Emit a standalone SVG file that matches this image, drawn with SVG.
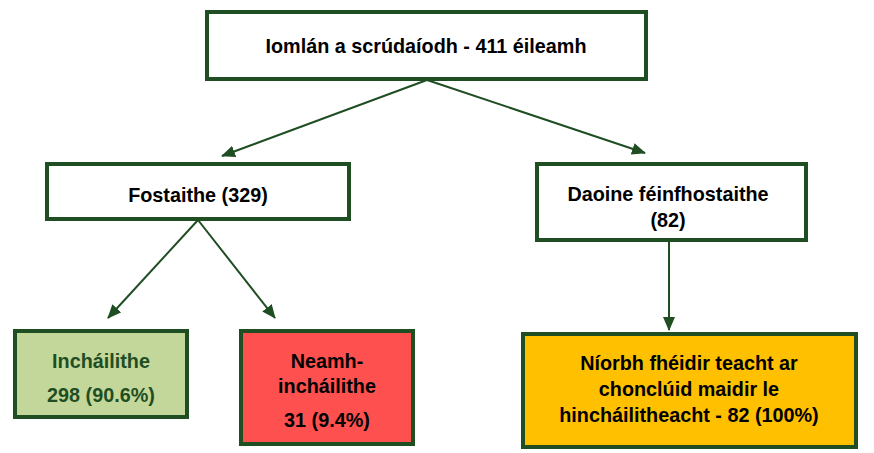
<svg xmlns="http://www.w3.org/2000/svg" width="874" height="453" viewBox="0 0 874 453">
<defs>
<marker id="ah" markerWidth="14" markerHeight="12" refX="13" refY="6" orient="auto" markerUnits="userSpaceOnUse">
<path d="M0,0 L14,6 L0,12 Z" fill="#1f4e23"/>
</marker>
<style>
.box{stroke:#1f4e23;stroke-width:4}
.t{font-family:"Liberation Sans",Arial,sans-serif;font-weight:bold;font-size:19.8px;text-anchor:middle;fill:#000}
.g{fill:#1f4e23}
.c{stroke:#1f4e23;stroke-width:2;fill:none;marker-end:url(#ah)}
</style>
</defs>
<rect width="874" height="453" fill="#fff"/>
<g id="connectors">
<line class="c" x1="427" y1="80" x2="222" y2="156"/>
<line class="c" x1="427" y1="80" x2="645" y2="153"/>
<line class="c" x1="198" y1="220" x2="108" y2="318"/>
<line class="c" x1="198" y1="220" x2="275" y2="318"/>
<line class="c" x1="669" y1="240" x2="669" y2="330"/>
</g>
<g id="top">
<rect class="box" x="207" y="12" width="439" height="67" fill="#fff"/>
<text class="t" x="426" y="53">Iomlán a scrúdaíodh - 411 éileamh</text>
</g>
<g id="fostaithe">
<rect class="box" x="47" y="164" width="302" height="55" fill="#fff"/>
<text class="t" x="198" y="202">Fostaithe (329)</text>
</g>
<g id="daoine">
<rect class="box" x="537" y="164" width="269" height="76" fill="#fff"/>
<text class="t" x="668" y="201">Daoine féinfhostaithe</text>
<text class="t" x="668" y="227">(82)</text>
</g>
<g id="inchailithe">
<rect class="box" x="15" y="331" width="172" height="86" fill="#c4d79b"/>
<text class="t g" x="101" y="368">Incháilithe</text>
<text class="t g" x="101" y="402">298 (90.6%)</text>
</g>
<g id="neamh">
<rect class="box" x="241" y="331" width="172" height="113" fill="#ff5050"/>
<text class="t" x="327" y="368">Neamh-</text>
<text class="t" x="327" y="393">incháilithe</text>
<text class="t" x="327" y="427">31 (9.4%)</text>
</g>
<g id="nior">
<rect class="box" x="523" y="334" width="333" height="113" fill="#ffc000"/>
<text class="t" x="689" y="370">Níorbh fhéidir teacht ar</text>
<text class="t" x="689" y="396">chonclúid maidir le</text>
<text class="t" x="689" y="422">hincháilitheacht - 82 (100%)</text>
</g>
</svg>
